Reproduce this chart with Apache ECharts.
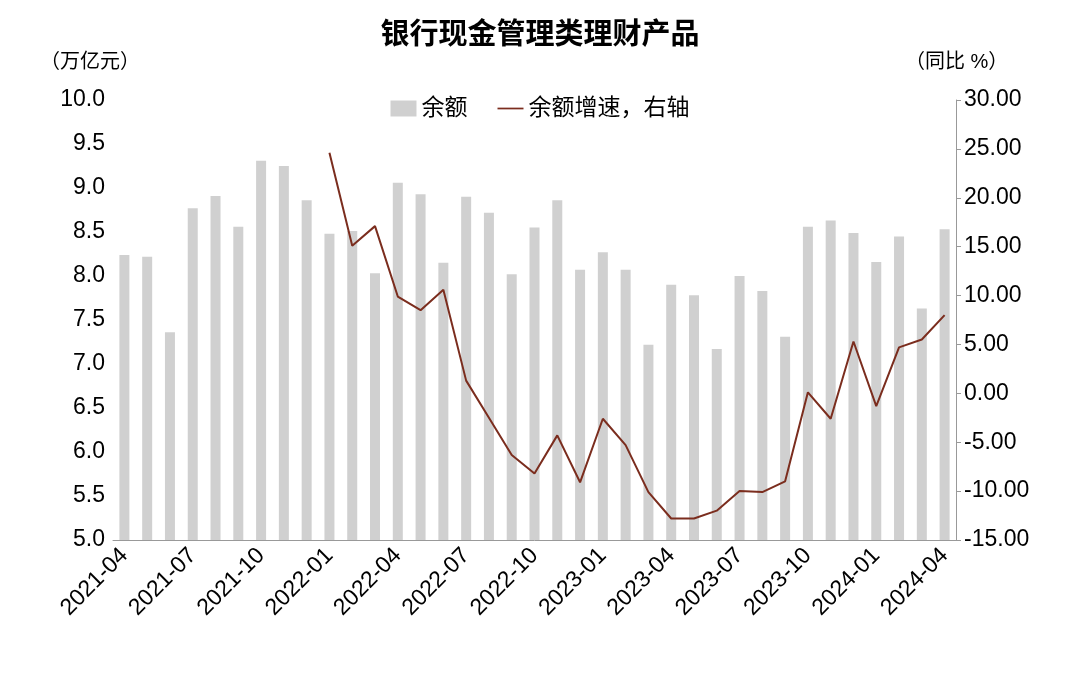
<!DOCTYPE html>
<html><head><meta charset="utf-8">
<script src="https://cdn.jsdelivr.net/npm/echarts@6/dist/echarts.min.js"></script>
<style>html,body{margin:0;background:#fff}#main{width:1080px;height:677px}</style>
</head><body><div id="main"></div>
<script>
var months = [];
for (var y = 2021; y <= 2024; y++) {
  for (var m = 1; m <= 12; m++) {
    if ((y === 2021 && m < 4) || (y === 2024 && m > 4)) continue;
    months.push(y + "-" + (m < 10 ? "0" + m : m));
  }
}
var balance = [8.24, 8.22, 7.36, 8.77, 8.91, 8.56, 9.31, 9.25, 8.86, 8.48, 8.51, 8.03,
  9.06, 8.93, 8.15, 8.90, 8.72, 8.02, 8.55, 8.86, 8.07, 8.27, 8.07, 7.22, 7.90, 7.78,
  7.17, 8.00, 7.83, 7.31, 8.56, 8.63, 8.49, 8.16, 8.45, 7.63, 8.53];
var growth = [null, null, null, null, null, null, null, null, null, 24.6, 15.1, 17.1,
  9.9, 8.5, 10.6, 1.3, -2.5, -6.3, -8.2, -4.3, -9.1, -2.6, -5.3, -10.1, -12.8, -12.8,
  -12.0, -10.0, -10.1, -9.0, 0.1, -2.6, 5.3, -1.3, 4.7, 5.5, 8.0];

var chart = echarts.init(document.getElementById("main"));
var font = "'Liberation Sans', 'Noto Sans CJK SC', sans-serif";
chart.setOption({
  backgroundColor: "#fff",
  textStyle: { fontFamily: font },
  title: {
    text: "银行现金管理类理财产品", left: "center", top: 16,
    textStyle: { fontSize: 29, fontWeight: "bold", color: "#000", fontFamily: font }
  },
  legend: {
    top: 92, left: "center", itemGap: 30, itemWidth: 26, itemHeight: 16,
    textStyle: { fontSize: 23, color: "#000" },
    data: [
      { name: "余额", icon: "rect" },
      { name: "余额增速，右轴", icon: "path://M0,0H30V2H0Z" }
    ]
  },
  grid: { left: 113, right: 124, top: 100, bottom: 137 },
  graphic: [
    { type: "text", left: 40, top: 52, style: { text: "（万亿元）", fill: "#000", font: "20px " + font } },
    { type: "text", left: 905, top: 52, style: { text: "（同比 %）", fill: "#000", font: "20px " + font } }
  ],
  xAxis: {
    type: "category", data: months,
    axisLine: { onZero: false, lineStyle: { color: "#999" } },
    axisTick: { show: false },
    axisLabel: { interval: 2, rotate: 45, fontSize: 23, color: "#000", margin: 12 }
  },
  yAxis: [
    {
      type: "value", min: 5, max: 10, interval: 0.5,
      splitLine: { show: false }, axisLine: { show: false }, axisTick: { show: false },
      axisLabel: { fontSize: 23, color: "#000", formatter: function (v) { return v.toFixed(1); } }
    },
    {
      type: "value", min: -15, max: 30, interval: 5,
      splitLine: { show: false },
      axisLine: { show: true, lineStyle: { color: "#999" } },
      axisTick: { show: true, lineStyle: { color: "#999" } },
      axisLabel: { fontSize: 23, color: "#000", formatter: function (v) { return v.toFixed(2); } }
    }
  ],
  series: [
    { name: "余额", type: "bar", data: balance, barWidth: 10, itemStyle: { color: "#d0d0d0" } },
    { name: "余额增速，右轴", type: "line", yAxisIndex: 1, data: growth, symbol: "none",
      lineStyle: { color: "#7b2d1e", width: 2 }, itemStyle: { color: "#7b2d1e" } }
  ]
});
</script></body></html>
